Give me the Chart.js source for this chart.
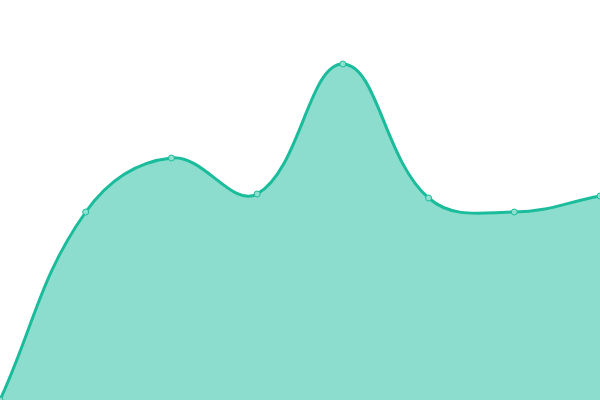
<!DOCTYPE html>
<html>
<head>
<meta charset="utf-8">
<script src="https://cdn.jsdelivr.net/npm/chart.js@4"></script>
<style>
  html, body { margin: 0; padding: 0; background: #fff; }
  #wrap { width: 600px; height: 400px; }
</style>
</head>
<body>
<div id="wrap"><canvas id="chart"></canvas></div>
<script>
const labels = ['1', '2', '3', '4', '5', '6', '7', '8'];
const values = [0, 47, 60.5, 51.5, 84, 50.5, 47, 51];

const ctx = document.getElementById('chart').getContext('2d');
new Chart(ctx, {
    type: 'line',
    data: {
        labels: labels,
        datasets: [{
            data: values,
            fill: true,
            backgroundColor: 'rgba(26, 188, 156, 0.5)',
            borderColor: '#1abc9c',
            borderWidth: 3,
            tension: 0.4,
            pointRadius: 3,
            pointBorderWidth: 1,
            pointBackgroundColor: '#90e0d0',
            pointBorderColor: '#1abc9c'
        }]
    },
    options: {
        responsive: true,
        maintainAspectRatio: false,
        animation: false,
        layout: { autoPadding: false, padding: 0 },
        scales: {
            x: { display: false, offset: false },
            y: { display: false, min: 0, max: 100 }
        },
        plugins: {
            legend: { display: false },
            tooltip: { enabled: false }
        }
    }
});
</script>
</body>
</html>
